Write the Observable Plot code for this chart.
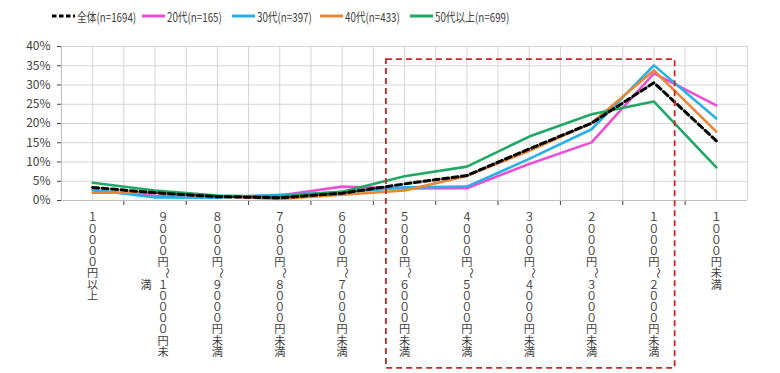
<!DOCTYPE html>
<html><head><meta charset="utf-8">
<script src="https://cdn.jsdelivr.net/npm/d3@7"></script>
<script src="https://cdn.jsdelivr.net/npm/@observablehq/plot@0.6"></script>
<style>
body{margin:0;background:#fff;font-family:"Noto Sans CJK JP","Noto Sans",sans-serif;}
#wrap{position:relative;width:780px;height:373px;overflow:hidden;}
#legend{position:relative;height:32px;}
.item{position:absolute;top:8px;height:16px;display:flex;align-items:center;}
.item svg{flex:none;}
.item span{font-size:12.5px;color:#404040;transform:scaleX(0.78);transform-origin:left center;white-space:nowrap;margin-left:2px;display:inline-block;}
</style></head>
<body>
<div id="wrap"><div id="legend"></div><div id="chart"></div></div>
<script>
const categories = ["１００００円以上","９０００円～１００００円未満","８０００円～９０００円未満","７０００円～８０００円未満","６０００円～７０００円未満","５０００円～６０００円未満","４０００円～５０００円未満","３０００円～４０００円未満","２０００円～３０００円未満","１０００円～２０００円未満","１０００円未満"];
const seriesNames = ["全体(n=1694)","20代(n=165)","30代(n=397)","40代(n=433)","50代以上(n=699)"];
const zentai = [3.4,2.0,1.0,0.7,1.9,4.3,6.5,13.4,20.1,30.6,15.5];
const age20  = [2.6,1.2,0.9,1.3,3.6,3.1,3.2,9.5,15.1,33.0,24.7];
const age30  = [2.8,0.8,0.7,1.5,2.1,3.4,3.6,10.8,18.5,35.1,21.3];
const age40  = [2.0,2.0,1.1,0.4,1.5,2.6,6.4,12.9,20.1,33.8,17.9];
const age50  = [4.6,2.6,1.3,1.0,2.3,6.3,8.8,16.6,22.4,25.7,8.6];
const yTicks = [0,5,10,15,20,25,30,35,40];
const colors = ["#000000","#ec4fd3","#27b1e6","#ea8534","#1fa865"];

const seriesValues = [zentai, age20, age30, age40, age50];
const rows = [];
seriesNames.forEach((s, k) => seriesValues[k].forEach((v, i) => rows.push({series: s, i, v: v / 100})));

// legend
const legendLefts = [52, 142, 232, 320, 410];
const leg = document.getElementById("legend");
seriesNames.forEach((s, k) => {
  const it = document.createElement("div");
  it.className = "item";
  it.style.left = legendLefts[k] + "px";
  const dash = k === 0 ? 'stroke-dasharray="4.5,2.5"' : "";
  it.innerHTML = `<svg width="23" height="6"><line x1="0" x2="23" y1="3" y2="3" stroke="${colors[k]}" stroke-width="3" ${dash}/></svg><span>${s}</span>`;
  leg.appendChild(it);
});

// x labels: stacked vertically one character per line, wrapped at 13 characters per column.
// The wave dash is drawn separately, rotated, in its own slot.
const maxCol = 13;
const TILDE = "～";
const stack = chars => chars.map(c => (c === TILDE ? "\u3000" : c)).join("\n");
const labelRows = categories.map((t, i) => ({i, chars: [...t]}));
const single = labelRows.filter(d => d.chars.length <= maxCol).map(d => ({i: d.i, text: stack(d.chars)}));
const wrapped = labelRows.filter(d => d.chars.length > maxCol);
const wrapFirst = wrapped.map(d => ({i: d.i, text: stack(d.chars.slice(0, maxCol))}));
const wrapSecond = wrapped.map(d => ({i: d.i, text: stack(d.chars.slice(maxCol)), n: d.chars.length - maxCol}));
const tildeSingle = labelRows.filter(d => d.chars.length <= maxCol && d.chars.includes(TILDE)).map(d => ({i: d.i, pos: d.chars.indexOf(TILDE)}));
const tildeWrapped = wrapped.filter(d => d.chars.includes(TILDE)).map(d => ({i: d.i, pos: d.chars.indexOf(TILDE)}));

const fs = 11.2;
const top0 = 13;
const lblStyle = {fontSize: fs, fill: "#404040", textAnchor: "middle", lineAnchor: "top", lineHeight: 1, frameAnchor: "bottom", fontFamily: "Noto Sans CJK JP"};
const tildeDy = pos => top0 + (pos + 0.33) * fs;
const tPos = tildeSingle.length ? tildeSingle[0].pos : 5;
const tPosW = tildeWrapped.length ? tildeWrapped[0].pos : 5;

const chart = Plot.plot({
  width: 780,
  height: 341,
  marginTop: 14,
  marginBottom: 173,
  marginLeft: 61,
  marginRight: 33,
  style: {fontFamily: "Noto Sans CJK JP, sans-serif", fontSize: "12px", color: "#404040", background: "#fff"},
  x: {domain: [-0.5, 10.5], ticks: d3.range(0.5, 10, 1), tickFormat: () => "", tickSize: 5, label: null},
  y: {domain: [0, 0.4], ticks: yTicks.map(v => v / 100), tickFormat: v => `${Math.round(v * 100)}%`, tickSize: 4, tickPadding: 7, label: null},
  color: {domain: seriesNames, range: colors},
  marks: [
    Plot.ruleX(d3.range(-0.5, 10.51, 0.5), {stroke: "#d4d4d4", strokeWidth: 1}),
    Plot.ruleY(yTicks.map(v => v / 100), {stroke: "#d4d4d4", strokeWidth: 1}),
    Plot.ruleY([0], {stroke: "#bfbfbf", strokeWidth: 1}),
    Plot.ruleX([-0.5], {stroke: "#bfbfbf", strokeWidth: 1}),
    Plot.line(rows.filter(d => d.series !== seriesNames[0]), {x: "i", y: "v", z: "series", stroke: "series", strokeWidth: 2.6}),
    Plot.line(rows.filter(d => d.series === seriesNames[0]), {x: "i", y: "v", stroke: "#000", strokeWidth: 3, strokeDasharray: "6,3.5"}),
    Plot.rect([{x1: 4.71, x2: 9.34, y1: -0.436, y2: 0.366}], {x1: "x1", x2: "x2", y1: "y1", y2: "y2", fill: "none", stroke: "#c62828", strokeWidth: 1.8, strokeDasharray: "6,4"}),
    Plot.text(single, {x: "i", text: "text", dy: top0, ...lblStyle}),
    Plot.text(wrapFirst, {x: "i", text: "text", dy: top0, dx: 8, ...lblStyle}),
    Plot.text(wrapSecond, {x: "i", text: "text", dy: top0 + (maxCol - 1) / 2 * fs, dx: -9, ...lblStyle}),
    Plot.text(tildeSingle, {x: "i", text: () => TILDE, rotate: 90, dy: tildeDy(tPos), fontSize: fs, fill: "#404040", frameAnchor: "bottom", fontFamily: "Noto Sans CJK JP"}),
    Plot.text(tildeWrapped, {x: "i", text: () => TILDE, rotate: 90, dy: tildeDy(tPosW), dx: 8, fontSize: fs, fill: "#404040", frameAnchor: "bottom", fontFamily: "Noto Sans CJK JP"})
  ]
});
document.getElementById("chart").appendChild(chart);
</script>
</body></html>
